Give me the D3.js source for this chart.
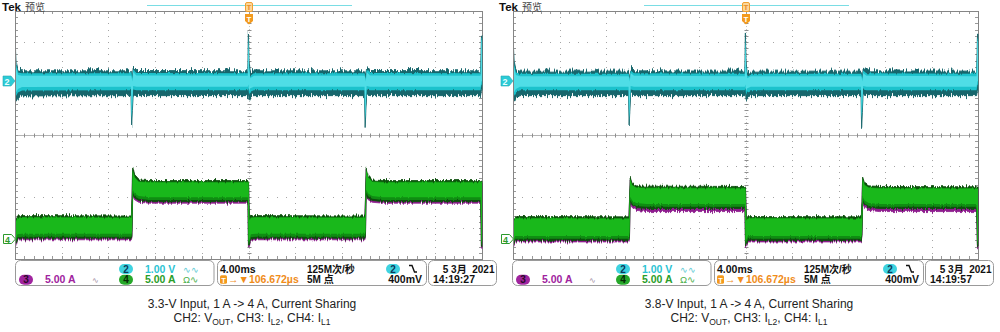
<!DOCTYPE html>
<html><head><meta charset="utf-8">
<script src="https://cdn.jsdelivr.net/npm/d3@7"></script>
<style>body{margin:0;background:#fff}svg{display:block}</style>
</head><body>
<svg id="c" width="1000" height="332"></svg>
<script>
// ---------------- DATA ----------------
const timeDomainMs = [0, 40];            // 10 div x 4.00 ms
const divDomain = [-4, 4];                // 8 vertical divisions
const ch2VoltsPerDiv = 1.0;
const ch4AmpsPerDiv = 5.0;
const ch2PositionDiv = [1.74, 1.74];      // left panel, right panel
const ch4PositionDiv = [-3.35, -3.34];
const triggerTimeMs = 20;

const captionTitles = ["3.3-V Input, 1 A -> 4 A, Current Sharing", "3.8-V Input, 1 A -> 4 A, Current Sharing"];
const clockLabels = ["14:19:27", "14:19:57"];
const dateLabel = "5 3月  2021";
const ch2ScaleLabel = "1.00 V";
const ch3ScaleLabel = "5.00 A";
const ch4ScaleLabel = "5.00 A";
const timebaseLabel = "4.00ms";
const sampleRateLabel = "125M次/秒";
const recordLabel = "5M 点";
const triggerLevelLabel = "400mV";
const triggerPosLabel = "106.672µs";

// CH2 VOUT envelope: [time ms, upper V, lower V] relative to channel marker
const ch2VoutLeft = [
  [0.00, 1.26, -0.55], [0.04, 1.10, -0.60], [0.10, 0.60, -0.65], [0.25, 0.36, -0.55], [0.60, 0.33, -0.48],
  [9.94, 0.33, -0.47], [9.99, 0.28, -1.48], [10.05, 0.15, -0.95], [10.12, 0.45, -0.45], [10.40, 0.34, -0.47],
  [19.94, 0.33, -0.47], [19.99, 1.55, -0.40], [20.05, 0.60, -0.62], [20.15, 0.25, -0.52], [20.45, 0.33, -0.47],
  [29.94, 0.33, -0.47], [29.99, 0.28, -1.50], [30.05, 0.15, -0.95], [30.12, 0.45, -0.45], [30.40, 0.34, -0.47],
  [39.88, 0.33, -0.47], [39.95, 1.48, -0.30], [40.00, 1.48, -0.30]
];
const ch2VoutRight = [
  [0.00, 1.25, -0.55], [0.04, 1.10, -0.60], [0.10, 0.60, -0.65], [0.25, 0.36, -0.55], [0.60, 0.32, -0.47],
  [9.94, 0.32, -0.47], [9.99, 0.28, -1.48], [10.05, 0.15, -0.95], [10.12, 0.42, -0.45], [10.40, 0.33, -0.47],
  [19.94, 0.32, -0.47], [19.99, 1.52, -0.40], [20.05, 0.60, -0.62], [20.15, 0.25, -0.52], [20.45, 0.32, -0.47],
  [29.94, 0.32, -0.47], [29.99, 0.28, -1.47], [30.05, 0.15, -0.95], [30.12, 0.42, -0.45], [30.40, 0.33, -0.47],
  [39.88, 0.32, -0.47], [39.95, 1.45, -0.30], [40.00, 1.45, -0.30]
];

// CH4 IL1 envelope: [time ms, upper A, lower A]
const ch4IL1Left = [
  [0.00, 1.0, -1.1], [0.08, 3.3, -0.9], [0.20, 3.7, 0.0], [0.60, 3.75, 0.1],
  [9.97, 3.7, 0.1], [10.02, 6.5, 0.5], [10.08, 11.6, 7.2], [10.25, 10.2, 6.6], [10.60, 9.5, 6.2], [11.50, 9.4, 6.0],
  [19.95, 9.4, 6.0], [20.00, 9.3, -1.2], [20.08, 3.3, -0.9], [20.20, 3.7, 0.0], [20.60, 3.75, 0.1],
  [29.97, 3.7, 0.1], [30.02, 6.5, 0.5], [30.08, 11.6, 7.2], [30.25, 10.2, 6.6], [30.60, 9.5, 6.2], [31.50, 9.4, 6.0],
  [39.88, 9.4, 6.0], [39.95, 9.3, -1.2], [40.00, 9.3, -1.2]
];
const ch4IL1Right = [
  [0.00, 1.0, -1.2], [0.08, 3.2, -0.9], [0.20, 3.5, -0.3], [0.60, 3.55, -0.3],
  [9.97, 3.5, -0.3], [10.02, 6.0, 0.3], [10.08, 9.9, 6.0], [10.25, 8.9, 5.4], [10.60, 8.5, 5.0], [11.50, 8.45, 4.85],
  [19.95, 8.4, 4.85], [20.00, 8.3, -1.2], [20.08, 3.2, -0.9], [20.20, 3.5, -0.3], [20.60, 3.55, -0.3],
  [29.97, 3.5, -0.3], [30.02, 6.0, 0.3], [30.08, 9.9, 6.0], [30.25, 8.9, 5.4], [30.60, 8.5, 5.0], [31.50, 8.4, 4.85],
  [39.88, 8.35, 4.85], [39.95, 8.3, -1.2], [40.00, 8.3, -1.2]
];
// CH3 IL2 envelope (mostly hidden behind CH4)
const ch3IL2Left = [
  [0.00, 0.8, -1.5], [0.08, 3.1, -1.2], [0.20, 3.5, -0.2], [0.60, 3.55, -0.15],
  [9.97, 3.5, -0.15], [10.02, 6.3, 0.3], [10.08, 11.2, 6.9], [10.25, 9.9, 6.3], [10.60, 9.2, 5.9], [11.50, 9.1, 5.75],
  [19.95, 9.1, 5.75], [20.00, 9.0, -1.5], [20.08, 3.1, -1.2], [20.20, 3.5, -0.2], [20.60, 3.55, -0.15],
  [29.97, 3.5, -0.15], [30.02, 6.3, 0.3], [30.08, 11.2, 6.9], [30.25, 9.9, 6.3], [30.60, 9.2, 5.9], [31.50, 9.1, 5.75],
  [39.88, 9.1, 5.75], [39.95, 9.0, -1.5], [40.00, 9.0, -1.5]
];
const ch3IL2Right = [
  [0.00, 0.8, -1.5], [0.08, 3.0, -1.2], [0.20, 3.3, -0.55], [0.60, 3.35, -0.55],
  [9.97, 3.3, -0.55], [10.02, 5.8, 0.0], [10.08, 9.6, 5.6], [10.25, 8.6, 5.0], [10.60, 8.2, 4.55], [11.50, 8.15, 4.35],
  [19.95, 8.1, 4.35], [20.00, 8.0, -1.5], [20.08, 3.0, -1.2], [20.20, 3.3, -0.55], [20.60, 3.35, -0.55],
  [29.97, 3.3, -0.55], [30.02, 5.8, 0.0], [30.08, 9.6, 5.6], [30.25, 8.6, 5.0], [30.60, 8.2, 4.55], [31.50, 8.1, 4.35],
  [39.88, 8.05, 4.35], [39.95, 8.0, -1.5], [40.00, 8.0, -1.5]
];

// ---------------- DRAW ----------------
const svg = d3.select("#c");
const defs = svg.append("defs");
function jagFilter(id, freq, scale) {
  const f = defs.append("filter").attr("id", id).attr("x", "-2%").attr("y", "-40%")
    .attr("width", "104%").attr("height", "180%").attr("color-interpolation-filters", "sRGB");
  f.append("feTurbulence").attr("type", "fractalNoise").attr("baseFrequency", freq)
    .attr("numOctaves", 2).attr("seed", 7).attr("result", "n");
  f.append("feColorMatrix").attr("in", "n").attr("type", "matrix")
    .attr("values", "0 0 0 0 0.5  0 1 0 0 0  0 0 0 0 0  0 0 0 0 1").attr("result", "m");
  f.append("feDisplacementMap").attr("in", "SourceGraphic").attr("in2", "m")
    .attr("scale", scale).attr("xChannelSelector", "R").attr("yChannelSelector", "G");
}
jagFilter("jagC", "0.8 0.02", 10);
jagFilter("jagG", "0.8 0.02", 6);
jagFilter("jagS", "0.6 0.02", 3);

const panels = [
  { gx0: 15, gx1: 482, off: 0, env2: ch2VoutLeft, env4: ch4IL1Left, env3: ch3IL2Left, idx: 0 },
  { gx0: 513, gx1: 978, off: 497, env2: ch2VoutRight, env4: ch4IL1Right, env3: ch3IL2Right, idx: 1 }
];
const gy0 = 11, gy1 = 259;
const FONT = "'Liberation Sans', Arial, sans-serif";
const CJK = "'Liberation Sans', 'Noto Sans CJK SC', sans-serif";

function bandArea(x, y, insetTop, insetBot) {
  return d3.area()
    .x(d => x(d[0]))
    .y1(d => { const a = y(d[1]) + insetTop, b = y(d[2]) - insetBot; return a <= b ? a : (y(d[1]) + y(d[2])) / 2; })
    .y0(d => { const a = y(d[1]) + insetTop, b = y(d[2]) - insetBot; return a <= b ? b : (y(d[1]) + y(d[2])) / 2; });
}

panels.forEach(p => {
  const g = svg.append("g");
  const x = d3.scaleLinear().domain(timeDomainMs).range([p.gx0, p.gx1]);
  const yDiv = d3.scaleLinear().domain(divDomain).range([gy1, gy0]);
  const xMajor = d3.range(0, 41, 4), yMajor = d3.range(-4, 5, 1);
  const xMinor = d3.range(0, 40.01, 0.8), yMinor = d3.range(-4, 4.01, 0.2);

  // grid dots
  const grid = g.append("g");
  yMajor.filter(v => v !== 0 && Math.abs(v) !== 4).forEach(v => {
    grid.selectAll(null).data(xMinor).join("rect")
      .attr("x", t => Math.round(x(t))).attr("y", Math.round(yDiv(v)))
      .attr("width", 1).attr("height", 1).attr("fill", "#a6a6a6");
  });
  xMajor.filter(t => t !== 20 && t !== 0 && t !== 40).forEach(t => {
    grid.selectAll(null).data(yMinor).join("rect")
      .attr("x", Math.round(x(t))).attr("y", v => Math.round(yDiv(v)))
      .attr("width", 1).attr("height", 1).attr("fill", "#a6a6a6");
  });
  // center lines with ticks
  const cy = Math.round(yDiv(0)) + 0.5, cx = Math.round(x(triggerTimeMs)) + 0.5;
  grid.append("line").attr("x1", p.gx0).attr("x2", p.gx1).attr("y1", cy).attr("y2", cy).attr("stroke", "#b4b4b4");
  grid.append("line").attr("x1", cx).attr("x2", cx).attr("y1", gy0).attr("y2", gy1).attr("stroke", "#c4c4c4").attr("stroke-dasharray", "1 2");
  grid.selectAll(null).data(xMinor).join("line")
    .attr("x1", t => Math.round(x(t)) + 0.5).attr("x2", t => Math.round(x(t)) + 0.5)
    .attr("y1", cy - 2).attr("y2", cy + 2).attr("stroke", "#8e8e8e");
  grid.selectAll(null).data(yMinor).join("line")
    .attr("y1", v => Math.round(yDiv(v)) + 0.5).attr("y2", v => Math.round(yDiv(v)) + 0.5)
    .attr("x1", cx - 2).attr("x2", cx + 2).attr("stroke", "#8e8e8e");
  // border ticks
  grid.selectAll(null).data(xMinor).join("line")
    .attr("x1", t => Math.round(x(t)) + 0.5).attr("x2", t => Math.round(x(t)) + 0.5)
    .attr("y1", gy0).attr("y2", gy0 + 3).attr("stroke", "#9a9a9a");
  grid.selectAll(null).data(xMinor).join("line")
    .attr("x1", t => Math.round(x(t)) + 0.5).attr("x2", t => Math.round(x(t)) + 0.5)
    .attr("y1", gy1 - 3).attr("y2", gy1).attr("stroke", "#9a9a9a");
  grid.selectAll(null).data(yMinor).join("line")
    .attr("y1", v => Math.round(yDiv(v)) + 0.5).attr("y2", v => Math.round(yDiv(v)) + 0.5)
    .attr("x1", p.gx0).attr("x2", p.gx0 + 3).attr("stroke", "#9a9a9a");
  grid.selectAll(null).data(yMinor).join("line")
    .attr("y1", v => Math.round(yDiv(v)) + 0.5).attr("y2", v => Math.round(yDiv(v)) + 0.5)
    .attr("x1", p.gx1 - 3).attr("x2", p.gx1).attr("stroke", "#9a9a9a");
  g.append("rect").attr("x", p.gx0 + 0.5).attr("y", gy0 + 0.5)
    .attr("width", p.gx1 - p.gx0).attr("height", gy1 - gy0)
    .attr("fill", "none").attr("stroke", "#858585");

  // clip
  const clipId = "clip" + p.idx;
  defs.append("clipPath").attr("id", clipId).append("rect")
    .attr("x", p.gx0 + 1).attr("y", gy0 + 1).attr("width", p.gx1 - p.gx0).attr("height", gy1 - gy0 - 1);
  const tr = g.append("g").attr("clip-path", `url(#${clipId})`);

  const y4 = a => yDiv(ch4PositionDiv[p.idx] + a / ch4AmpsPerDiv);
  const y2 = v => yDiv(ch2PositionDiv[p.idx] + v / ch2VoltsPerDiv);

  // CH3 purple
  tr.append("path").datum(p.env3).attr("d", bandArea(x, y4, 0, 0))
    .attr("fill", "#8e1c8e").attr("stroke", "#8e1c8e").attr("stroke-width", 0.8).attr("filter", "url(#jagG)");
  // CH4 green
  tr.append("path").datum(p.env4).attr("d", bandArea(x, y4, 0, 0))
    .attr("fill", "#0d4f0d").attr("stroke", "#0d4f0d").attr("stroke-width", 0.8).attr("filter", "url(#jagG)");
  tr.append("path").datum(p.env4).attr("d", bandArea(x, y4, 1.3, 1.6))
    .attr("fill", "#0f8d12").attr("filter", "url(#jagS)");
  tr.append("path").datum(p.env4).attr("d", bandArea(x, y4, 2.0, 4.5))
    .attr("fill", "#19b81b").attr("filter", "url(#jagS)");

  // CH2 cyan
  tr.append("path").datum(p.env2).attr("d", bandArea(x, y2, 0, 0))
    .attr("fill", "#17666c").attr("stroke", "#17666c").attr("stroke-width", 0.9).attr("filter", "url(#jagC)");
  tr.append("path").datum(p.env2).attr("d", bandArea(x, y2, 2.5, 5.5))
    .attr("fill", "#1cc2cc").attr("filter", "url(#jagS)");
  tr.append("path").datum(p.env2).attr("d", bandArea(x, y2, 5, 9))
    .attr("fill", "#4fdde6");

  // channel markers at left edge
  const m2 = Math.round(y2(0));
  g.append("path").attr("d", `M${p.gx0 - 12},${m2 - 5} h8 l4,5 l-4,5 h-8 z`)
    .attr("fill", "#2ccbd6").attr("stroke", "#2aa9b3").attr("stroke-width", 0.6);
  g.append("text").attr("x", p.gx0 - 8).attr("y", m2 + 3.5).attr("text-anchor", "middle")
    .attr("font-family", FONT).attr("font-weight", "bold").attr("font-size", 9).attr("fill", "#e8ffff").text("2");
  const m4 = Math.round(y4(0));
  g.append("path").attr("d", `M${p.gx0 - 11.5},${m4 - 4.5} h8 l4,4.5 l-4,4.5 h-8 z`)
    .attr("fill", "#fff").attr("stroke", "#2c9a2c").attr("stroke-width", 1);
  g.append("text").attr("x", p.gx0 - 7.5).attr("y", m4 + 3.5).attr("text-anchor", "middle")
    .attr("font-family", FONT).attr("font-weight", "bold").attr("font-size", 9).attr("fill", "#2c9a2c").text("4");

  // top area
  const o = p.off;
  g.append("text").attr("x", 2 + o).attr("y", 10.5).attr("font-family", FONT).attr("font-weight", "bold")
    .attr("font-size", 11.5).attr("fill", "#111").text("Tek");
  g.append("text").attr("x", 25 + o).attr("y", 10.5).attr("font-family", CJK)
    .attr("font-size", 10).attr("fill", "#444").text("预览");
  g.append("line").attr("x1", 147 + o).attr("x2", 352 + o).attr("y1", 5.5).attr("y2", 5.5)
    .attr("stroke", "#7adde4").attr("stroke-width", 1);
  const tx = Math.round(x(triggerTimeMs));
  g.append("rect").attr("x", tx - 3.5).attr("y", 2.5).attr("width", 7).attr("height", 9).attr("rx", 1.5)
    .attr("fill", "#fcd79a").attr("stroke", "#f0a030");
  g.append("text").attr("x", tx).attr("y", 10).attr("text-anchor", "middle").attr("font-family", FONT)
    .attr("font-weight", "bold").attr("font-size", 8).attr("fill", "#e8902a").text("T");
  g.append("path").attr("d", `M${tx - 4},${14} h8 v7 l-4,3.5 l-4,-3.5 z`).attr("fill", "#f39a1e");
  g.append("text").attr("x", tx).attr("y", 21.5).attr("text-anchor", "middle").attr("font-family", FONT)
    .attr("font-weight", "bold").attr("font-size", 8).attr("fill", "#fff").text("T");

  // status boxes
  const sb = g.append("g").attr("font-family", FONT).attr("font-weight", "bold").attr("font-size", 10.5);
  const boxes = [[15.5, 214], [217.5, 426.5], [428.5, 496.5]];
  boxes.forEach(b => sb.append("rect").attr("x", b[0] + o).attr("y", 260.5).attr("width", b[1] - b[0])
    .attr("height", 25).attr("rx", 5).attr("fill", "#fff").attr("stroke", "#9a9a9a"));
  const r1 = 272.5, r2 = 283.3;
  function pill(xc, yb, fill, label, tcol) {
    sb.append("rect").attr("x", xc - 7 + o).attr("y", yb - 8.5).attr("width", 14).attr("height", 10)
      .attr("rx", 5).attr("fill", fill);
    sb.append("text").attr("x", xc + o).attr("y", yb).attr("text-anchor", "middle").attr("font-size", 10)
      .attr("fill", tcol).text(label);
  }
  pill(126, r1, "#3fd3e0", "2", "#0b3a5a");
  sb.append("text").attr("x", 145 + o).attr("y", r1).attr("fill", "#2cc3d3").text(ch2ScaleLabel);
  sb.append("text").attr("x", 183 + o).attr("y", r1).attr("font-size", 9).attr("font-weight", "normal").attr("fill", "#55c8d4").text("∿∿");
  pill(26, r2, "#a0249e", "3", "#2a0a2a");
  sb.append("text").attr("x", 45 + o).attr("y", r2).attr("fill", "#a0249e").text(ch3ScaleLabel);
  sb.append("text").attr("x", 92 + o).attr("y", r2).attr("font-size", 8).attr("font-weight", "normal").attr("fill", "#a08aa0").text("∿");
  pill(126, r2, "#26a82a", "4", "#062806");
  sb.append("text").attr("x", 145 + o).attr("y", r2).attr("fill", "#2a9d2a").text(ch4ScaleLabel);
  sb.append("text").attr("x", 183 + o).attr("y", r2).attr("font-size", 9.5).attr("font-weight", "normal").attr("fill", "#4cb04c").text("Ω∿");

  sb.append("text").attr("x", 220 + o).attr("y", r1).attr("fill", "#111").text(timebaseLabel);
  sb.append("text").attr("x", 307 + o).attr("y", r1).attr("fill", "#111").attr("font-family", CJK).attr("font-size", 10)
    .text(sampleRateLabel);
  pill(393, r1, "#3fd3e0", "2", "#0b3a5a");
  sb.append("path").attr("d", `M${409 + o},${r1 - 7} h3 l2.5,6.5 h2.5`).attr("fill", "none")
    .attr("stroke", "#111").attr("stroke-width", 1.4);
  sb.append("rect").attr("x", 220 + o).attr("y", r2 - 8).attr("width", 7).attr("height", 8.5).attr("rx", 1.5).attr("fill", "#f39a1e");
  sb.append("text").attr("x", 223.5 + o).attr("y", r2 - 0.8).attr("text-anchor", "middle").attr("font-size", 7.5).attr("fill", "#fff").text("T");
  sb.append("text").attr("x", 228 + o).attr("y", r2).attr("fill", "#f08c1a").text("→▼" + triggerPosLabel);
  sb.append("text").attr("x", 307 + o).attr("y", r2).attr("fill", "#111").attr("font-family", CJK).attr("font-size", 10)
    .text(recordLabel);
  sb.append("text").attr("x", 422 + o).attr("y", r2).attr("text-anchor", "end").attr("fill", "#111").text(triggerLevelLabel);
  sb.append("text").attr("x", 494.5 + o).attr("y", r1).attr("text-anchor", "end").attr("fill", "#111").attr("font-family", CJK).attr("font-size", 10)
    .style("white-space", "pre").text(dateLabel);
  sb.append("text").attr("x", 433 + o).attr("y", r2).attr("fill", "#111").text(clockLabels[p.idx]);

  // captions
  const cap = g.append("g").attr("font-family", FONT).attr("font-size", 12).attr("fill", "#222").attr("text-anchor", "middle");
  cap.append("text").attr("x", 252 + o).attr("y", 308).text(captionTitles[p.idx]);
  const t2 = cap.append("text").attr("x", 252 + o).attr("y", 322);
  const parts = [["CH2: V", 0], ["OUT", 1], [", CH3: I", 0], ["L2", 1], [", CH4: I", 0], ["L1", 1]];
  let shifted = false;
  parts.forEach(([s, sub]) => {
    const ts = t2.append("tspan").text(s);
    if (sub) { ts.attr("font-size", 8.5).attr("dy", shifted ? 0 : 2.5); shifted = true; }
    else if (shifted) { ts.attr("dy", -2.5); shifted = false; }
  });
});
</script>
</body></html>
